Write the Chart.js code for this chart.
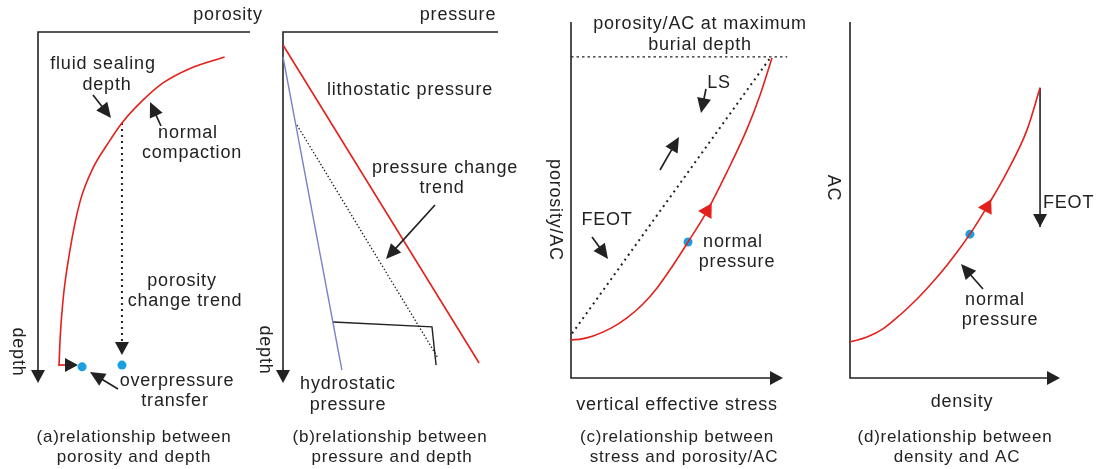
<!DOCTYPE html>
<html lang="en">
<head>
<meta charset="UTF-8">
<title>Porosity, pressure and AC relationships</title>
<script src="https://cdn.jsdelivr.net/npm/chart.js@4.4.1/dist/chart.umd.min.js"></script>
<style>
  html, body { margin: 0; background: #fff; }
  #wrap { position: relative; width: 1097px; height: 469px; }
  #wrap canvas { position: absolute; left: 0; top: 0; }
</style>
</head>
<body>
<div id="wrap">
  <canvas id="pa" width="1097" height="469"></canvas>
  <canvas id="pb" width="1097" height="469"></canvas>
  <canvas id="pc" width="1097" height="469"></canvas>
  <canvas id="pd" width="1097" height="469"></canvas>
</div>
<script>
// (a) porosity vs depth, both 0..100, depth grows downward
const aPorosity = [88, 72, 59, 49.5, 39.6, 32.5, 26, 19.8, 15.1, 11.8, 10.4, 9.9];
const aDepth    = [7.1, 10.3, 14.5, 19.4, 25.9, 32.2, 38.7, 48.4, 62.1, 76.4, 87.7, 95.2];
const aTrendX = [39.6, 39.6], aTrendY = [25.9, 92];
const aDotsX  = [20.8, 39.6], aDotsY  = [95.4, 94.9];

// (b) pressure vs depth
const bLithoX = [0, 91.2],  bLithoY = [3.7, 94.3];
const bHydroX = [0, 27.4],  bHydroY = [7.1, 96.3];
const bTrendX = [6.5, 72.1], bTrendY = [26.5, 92.9];
const bPathX  = [23.2, 69.3, 71.2], bPathY = [82.6, 84.0, 94.9];

// (c) vertical effective stress vs porosity/AC
const cStress   = [0, 5.2, 10.4, 18.9, 26.4, 33.5, 40.6, 47.6, 55.2, 64.2, 73.6, 83.0, 89.2, 94.8];
const cPorosity = [10.7, 11.0, 11.8, 14.0, 16.9, 20.5, 25.3, 31.2, 38.2, 46.9, 57.9, 69.9, 79.5, 89.9];
const cLsX = [0.5, 94.3], cLsY = [12.5, 90.2];
const cMaxX = [0, 102],   cMaxY = [90.2, 90.2];
const cDot = [55.2, 38.2], cMark = [64.2, 46.9];

// (d) density vs AC
const dDensity = [0, 8.1, 15.7, 23.8, 31.9, 39.0, 46.2, 52.4, 57.1, 65.2, 74.8, 84.3, 90.5];
const dAC      = [10.1, 11.5, 13.8, 17.7, 22.2, 26.7, 31.7, 36.5, 40.4, 48.0, 57.9, 69.7, 81.5];
const dFeotX = [90.5, 90.5], dFeotY = [81.5, 42.4];
const dDot = [57.1, 40.4], dMark = [65.2, 48.0];

const W = 1097, H = 469;
const INK = '#222222', RED = '#e3211c', LILAC = '#7c80c8', CYAN = '#1a9fe0';
const FONT = '"Liberation Sans", Arial, sans-serif';

const pts = (xs, ys) => xs.map((x, i) => ({ x: x, y: ys[i] }));
const line = (xs, ys, color, width, extra) => Object.assign({
  data: pts(xs, ys), showLine: true, borderColor: color, borderWidth: width,
  pointRadius: 0, tension: 0, fill: false, clip: false
}, extra || {});
const curve = (xs, ys) => line(xs, ys, RED, 1.6, { cubicInterpolationMode: 'monotone' });
const dots = (xs, ys) => ({
  data: pts(xs, ys), showLine: false, pointRadius: 4.5, pointBackgroundColor: CYAN,
  pointBorderWidth: 0, clip: false
});
const mark = (p, rot) => ({
  data: [{ x: p[0], y: p[1] }], showLine: false, pointStyle: 'triangle', pointRadius: 9,
  rotation: rot, pointBackgroundColor: RED, pointBorderWidth: 0, clip: false
});

function head(ctx, x1, y1, x2, y2, len, half) {
  const a = Math.atan2(y2 - y1, x2 - x1), c = Math.cos(a), s = Math.sin(a);
  ctx.beginPath();
  ctx.moveTo(x2, y2);
  ctx.lineTo(x2 - len * c + half * s, y2 - len * s - half * c);
  ctx.lineTo(x2 - len * c - half * s, y2 - len * s + half * c);
  ctx.closePath();
  ctx.fill();
}

function arrow(ctx, x1, y1, x2, y2) {
  const a = Math.atan2(y2 - y1, x2 - x1);
  ctx.beginPath();
  ctx.moveTo(x1, y1);
  ctx.lineTo(x2 - 12 * Math.cos(a), y2 - 12 * Math.sin(a));
  ctx.stroke();
  head(ctx, x1, y1, x2, y2, 15, 7);
}

function decor(p) {
  return {
    id: 'decor',
    beforeDatasetsDraw(chart) {
      const ctx = chart.ctx, c = chart.chartArea;
      ctx.save();
      ctx.strokeStyle = INK; ctx.fillStyle = INK; ctx.lineWidth = 1.6;
      ctx.beginPath();
      if (p.frame === 'top') {
        ctx.moveTo(c.right, c.top); ctx.lineTo(c.left, c.top); ctx.lineTo(c.left, c.bottom - 8);
        ctx.stroke();
        head(ctx, c.left, c.top, c.left, c.bottom, 13, 7);
      } else {
        ctx.moveTo(c.left, c.top); ctx.lineTo(c.left, c.bottom); ctx.lineTo(c.right - 8, c.bottom);
        ctx.stroke();
        head(ctx, c.left, c.bottom, c.right, c.bottom, 13, 7);
      }
      ctx.restore();
    },
    afterDatasetsDraw(chart) {
      const ctx = chart.ctx;
      ctx.save();
      chart.data.datasets.forEach((ds, i) => {
        if (!ds.arrowEnd) return;
        const m = chart.getDatasetMeta(i).data, n = m.length;
        ctx.fillStyle = ds.arrowEnd;
        head(ctx, m[n - 2].x, m[n - 2].y, m[n - 1].x, m[n - 1].y, 13, 7);
      });
      ctx.restore();
    },
    afterDraw(chart) {
      const ctx = chart.ctx;
      ctx.save();
      ctx.strokeStyle = INK; ctx.fillStyle = INK; ctx.lineWidth = 1.7;
      (p.arrows || []).forEach(a => arrow(ctx, a[0], a[1], a[2], a[3]));
      if (p.extra) p.extra(ctx);
      ctx.fillStyle = INK;
      ctx.textBaseline = 'middle';
      ctx.letterSpacing = '0.8px';
      (p.texts || []).forEach(t => {
        ctx.font = (t[4] || 18) + 'px ' + FONT;
        ctx.textAlign = t[3] || 'center';
        ctx.fillText(t[0], t[1], t[2]);
      });
      (p.vtexts || []).forEach(t => {
        ctx.save();
        ctx.font = '18px ' + FONT;
        ctx.textAlign = 'center';
        ctx.translate(t[1], t[2]);
        ctx.rotate(Math.PI / 2);
        ctx.fillText(t[0], 0, 0);
        ctx.restore();
      });
      ctx.restore();
    }
  };
}

function panel(id, area, yReverse, datasets, p) {
  return new Chart(document.getElementById(id), {
    type: 'scatter',
    data: { datasets: datasets },
    options: {
      responsive: false, animation: false, devicePixelRatio: 1,
      layout: { padding: { left: area[0], top: area[1], right: W - area[2], bottom: H - area[3] } },
      scales: {
        x: { type: 'linear', display: false, min: 0, max: 100 },
        y: { type: 'linear', display: false, min: 0, max: 100, reverse: yReverse }
      },
      plugins: { legend: { display: false }, tooltip: { enabled: false } },
      events: []
    },
    plugins: [decor(p)]
  });
}

Chart.defaults.font.family = FONT;

panel('pa', [38, 32, 250, 383], true, [
  curve(aPorosity, aDepth),
  line(aTrendX, aTrendY, INK, 2, { borderDash: [2, 4], arrowEnd: INK }),
  dots(aDotsX, aDotsY)
], {
  frame: 'top',
  arrows: [[93, 95, 111, 118], [161, 126, 150, 102], [118, 389, 90, 372]],
  extra(ctx) {
    ctx.strokeStyle = RED;
    ctx.beginPath(); ctx.moveTo(59, 365); ctx.lineTo(68, 365); ctx.stroke();
    ctx.fillStyle = INK;
    head(ctx, 59, 365, 78, 365, 13, 7);
  },
  texts: [
    ['porosity', 228, 15], ['fluid sealing', 103, 64], ['depth', 107, 85],
    ['normal', 188, 133], ['compaction', 192, 153],
    ['porosity', 182, 281], ['change trend', 185, 301],
    ['overpressure', 177, 381], ['transfer', 175, 401],
    ['(a)relationship between', 134, 437, 'center', 17], ['porosity and depth', 134, 457, 'center', 17]
  ],
  vtexts: [['depth', 18, 352]]
});

panel('pb', [283, 32, 498, 383], true, [
  line(bLithoX, bLithoY, RED, 1.6),
  line(bHydroX, bHydroY, LILAC, 1.4),
  line(bTrendX, bTrendY, INK, 1.3, { borderDash: [1.5, 2] }),
  line(bPathX, bPathY, INK, 1.4)
], {
  frame: 'top',
  arrows: [[435, 205, 386, 259]],
  texts: [
    ['pressure', 458, 15], ['lithostatic pressure', 410, 90],
    ['pressure change', 445, 168], ['trend', 442, 188],
    ['hydrostatic', 348, 384], ['pressure', 348, 405],
    ['(b)relationship between', 390, 437, 'center', 17], ['pressure and depth', 392, 457, 'center', 17]
  ],
  vtexts: [['depth', 265, 350]]
});

panel('pc', [571, 22, 783, 378], false, [
  line(cMaxX, cMaxY, INK, 1.3, { borderDash: [2.5, 3] }),
  line(cLsX, cLsY, INK, 2, { borderDash: [2, 4] }),
  curve(cStress, cPorosity),
  dots([cDot[0]], [cDot[1]]),
  mark(cMark, 31)
], {
  frame: 'bottom',
  arrows: [[706, 89, 701, 113], [660, 170, 679, 137], [592, 237, 608, 259]],
  texts: [
    ['porosity/AC at maximum', 700, 24], ['burial depth', 700, 45],
    ['LS', 719, 83], ['FEOT', 607, 220],
    ['normal', 733, 242], ['pressure', 737, 262],
    ['vertical effective stress', 677, 405],
    ['(c)relationship between', 677, 437, 'center', 17], ['stress and porosity/AC', 684, 457, 'center', 17]
  ],
  vtexts: [['porosity/AC', 555, 210]]
});

panel('pd', [850, 22, 1060, 378], false, [
  curve(dDensity, dAC),
  line(dFeotX, dFeotY, INK, 1.6, { arrowEnd: INK }),
  dots([dDot[0]], [dDot[1]]),
  mark(dMark, 28)
], {
  frame: 'bottom',
  arrows: [[983, 289, 961, 264]],
  texts: [
    ['FEOT', 1043, 203, 'left'],
    ['normal', 995, 300], ['pressure', 1000, 320],
    ['density', 962, 402],
    ['(d)relationship between', 955, 437, 'center', 17], ['density and AC', 957, 457, 'center', 17]
  ],
  vtexts: [['AC', 833, 188]]
});
</script>
</body>
</html>
